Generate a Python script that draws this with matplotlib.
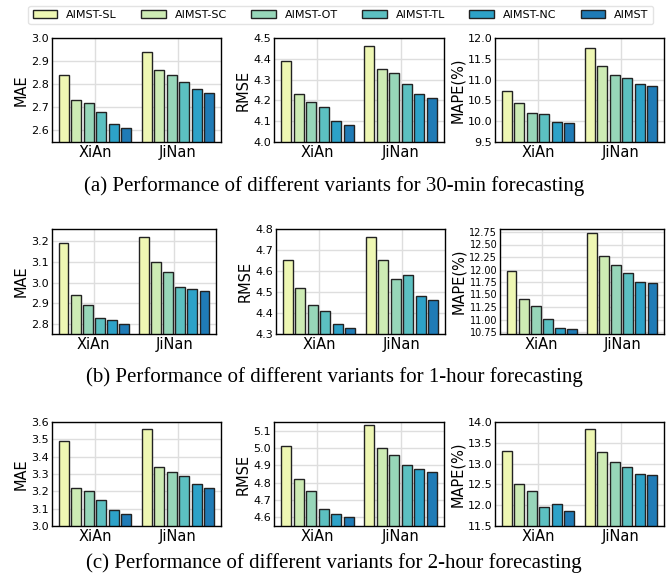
import matplotlib.pyplot as plt
import numpy as np
from matplotlib.ticker import FormatStrFormatter, MultipleLocator

models = ['AIMST-SL', 'AIMST-SC', 'AIMST-OT', 'AIMST-TL', 'AIMST-NC', 'AIMST']
cities = ['XiAn', 'JiNan']
colors = ['#eef7b3', '#cdebb4', '#97d6b9', '#5cc0c1', '#2da2c8', '#1f7bb6']

# values per city: [XiAn, JiNan], one entry per model
mae_30 = [[2.84, 2.73, 2.72, 2.68, 2.63, 2.61], [2.94, 2.86, 2.84, 2.81, 2.78, 2.76]]
rmse_30 = [[4.39, 4.23, 4.19, 4.17, 4.10, 4.08], [4.46, 4.35, 4.33, 4.28, 4.23, 4.21]]
mape_30 = [[10.73, 10.43, 10.19, 10.17, 9.99, 9.95], [11.76, 11.32, 11.11, 11.04, 10.89, 10.84]]

mae_60 = [[3.19, 2.94, 2.89, 2.83, 2.82, 2.80], [3.22, 3.10, 3.05, 2.98, 2.97, 2.96]]
rmse_60 = [[4.65, 4.52, 4.44, 4.41, 4.35, 4.33], [4.76, 4.65, 4.56, 4.58, 4.48, 4.46]]
mape_60 = [[11.97, 11.42, 11.28, 11.02, 10.84, 10.81], [12.74, 12.28, 12.09, 11.93, 11.76, 11.73]]

mae_120 = [[3.49, 3.22, 3.20, 3.15, 3.09, 3.07], [3.56, 3.34, 3.31, 3.29, 3.24, 3.22]]
rmse_120 = [[5.01, 4.82, 4.75, 4.65, 4.62, 4.60], [5.13, 5.00, 4.96, 4.90, 4.88, 4.86]]
mape_120 = [[13.31, 12.51, 12.35, 11.96, 12.02, 11.85], [13.84, 13.28, 13.03, 12.91, 12.75, 12.72]]

captions = ['(a) Performance of different variants for 30-min forecasting',
            '(b) Performance of different variants for 1-hour forecasting',
            '(c) Performance of different variants for 2-hour forecasting']

# (data, ylabel, ylim, tick step, format)
panels = [
    [(mae_30, 'MAE', (2.55, 3.0), 0.1, '%.1f'),
     (rmse_30, 'RMSE', (4.0, 4.5), 0.1, '%.1f'),
     (mape_30, 'MAPE(%)', (9.5, 12.0), 0.5, '%.1f')],
    [(mae_60, 'MAE', (2.75, 3.26), 0.1, '%.1f'),
     (rmse_60, 'RMSE', (4.3, 4.8), 0.1, '%.1f'),
     (mape_60, 'MAPE(%)', (10.71, 12.81), 0.25, '%.2f')],
    [(mae_120, 'MAE', (3.0, 3.6), 0.1, '%.1f'),
     (rmse_120, 'RMSE', (4.55, 5.15), 0.1, '%.1f'),
     (mape_120, 'MAPE(%)', (11.5, 14.0), 0.5, '%.1f')],
]

W, H = 668, 583
fig = plt.figure(figsize=(W / 100, H / 100), dpi=100)

# pixel boxes (left, right) per row and (top, bottom) per row
cols_px = [[(52, 221), (274, 444), (495, 664)],
           [(52, 216), (276, 445), (500, 664)],
           [(52, 221), (274, 444), (495, 664)]]
rows_px = [(38, 142), (229, 334), (422, 526)]
caption_y = [186, 377, 563]

x = np.arange(len(cities))
step = 0.15
bw = 0.12

for r in range(3):
    top, bot = rows_px[r]
    for c in range(3):
        data, ylab, ylim, tick, fmt = panels[r][c]
        l, rr = cols_px[r][c]
        ax = fig.add_axes([l / W, (H - bot) / H, (rr - l) / W, (bot - top) / H])
        ax.set_axisbelow(True)
        ax.grid(True, color='#dedede', linewidth=1.0)
        for i, m in enumerate(models):
            vals = [data[0][i], data[1][i]]
            ax.bar(x + (i - 2.5) * step, vals, bw, color=colors[i],
                   edgecolor='#222222', linewidth=1.0)
        ax.set_xlim(-0.52, 1.52)
        ax.set_ylim(*ylim)
        ax.yaxis.set_major_locator(MultipleLocator(tick))
        ax.yaxis.set_major_formatter(FormatStrFormatter(fmt))
        ax.set_xticks(x)
        ax.set_xticklabels(cities, fontsize=10.5)
        ax.tick_params(axis='y', labelsize=7 if fmt == '%.2f' else 8, length=0, pad=2)
        ax.tick_params(axis='x', length=0, pad=2)
        ax.set_ylabel(ylab, fontsize=10.5, labelpad=2)
        for s in ax.spines.values():
            s.set_linewidth(1.0)
            s.set_color('black')
    fig.text(0.5, 1 - caption_y[r] / H, captions[r], ha='center', va='center',
             fontsize=15, family='Liberation Serif')

handles = [plt.Rectangle((0, 0), 1, 1, facecolor=colors[i], edgecolor='#222222', linewidth=1.0)
           for i in range(len(models))]
fig.legend(handles, models, loc='upper center', bbox_to_anchor=(0.51, 1.0), ncol=6,
           fontsize=8, frameon=True, edgecolor='#dddddd', columnspacing=2.2,
           handlelength=2.2, borderpad=0.4)

fig.savefig('out.png', dpi=100)
